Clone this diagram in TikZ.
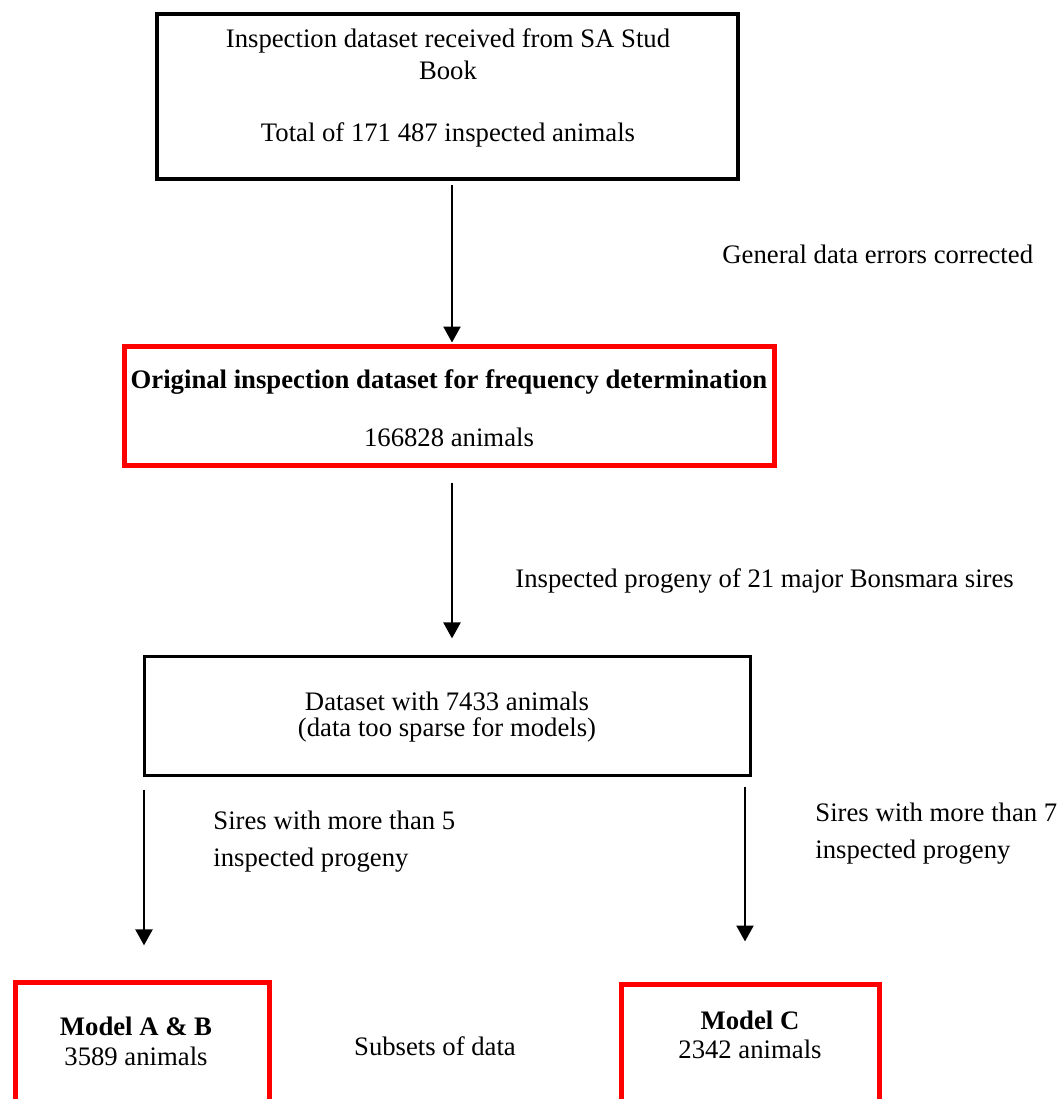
\documentclass[tikz,border=0pt]{standalone}
\usepackage{fontspec}
\setmainfont{Liberation Serif}
\usetikzlibrary{arrows.meta}

\begin{document}
\begin{tikzpicture}[x=0.44pt, y=-0.44pt,
        font=\fontsize{11.75}{14.2}\selectfont,
        blackbox/.style={draw=black, line width=1.6pt, inner sep=0pt},
        redbox/.style={draw=red, line width=2.3pt, inner sep=0pt},
        txt/.style={inner sep=0pt, align=center},
        note/.style={inner sep=0pt, anchor=west, align=left},
        flow/.style={line width=0.9pt, -{Triangle[width=7.5pt,length=7pt]}}]
        \clip (0,0) rectangle (1063,1099);
        % boxes
        \node[blackbox, minimum width=255.8pt, minimum height=72.8pt] (received) at (447.5,96.5) {};
        \node[redbox, minimum width=286pt, minimum height=52.4pt] (original) at (449.5,406) {};
        \node[blackbox, line width=1.3pt, minimum width=266.7pt, minimum height=52.4pt] (sparse) at (447.5,716) {};
        \node[redbox, minimum width=111.8pt, minimum height=85.8pt] (modelab) at (142.5,1080) {};
        \node[redbox, minimum width=113.5pt, minimum height=85.8pt] (modelc) at (750.5,1082) {};
        % box texts
        \node[txt] (receivedtxt) at (448,88) {Inspection dataset received from SA Stud\\Book\\[13pt]Total of 171 487 inspected animals};
        \node[txt] (originaltxt) at (449,408) {\textbf{Original inspection dataset for frequency determination}\\[11.5pt]166828 animals};
        \node[txt] (sparsetxt) at (447,717) {Dataset with 7433 animals\\[-2.4pt](data too sparse for models)};
        \node[txt] (modelabtxt) at (136,1041) {\textbf{Model A \& B}\\[-1.1pt]3589 animals};
        \node[txt] (modelctxt) at (750,1035) {\textbf{Model C}\\[-1.5pt]2342 animals};
        \node[txt] (subsets) at (435,1046) {Subsets of data};
        % step notes
        \node[note] (corrected) at (722,254) {General data errors corrected};
        \node[note] (progeny) at (515,581) {Inspected progeny of 21 major Bonsmara sires};
        \node[note] (morefive) at (213,842) {Sires with more than 5\\[2pt]inspected progeny};
        \node[note] (moreseven) at (815,834) {Sires with more than 7\\[2pt]inspected progeny};
        % arrows
        \coordinate (mainaxis) at (452,0);
        \coordinate (leftaxis) at (144,0);
        \coordinate (rightaxis) at (745,0);
        \draw[flow, shorten <=1.8pt, shorten >=0.6pt] (received.south -| mainaxis) -- (original.north -| mainaxis);
        \draw[flow, shorten <=6.4pt, shorten >=7.3pt] (original.south -| mainaxis) -- (sparse.north -| mainaxis);
        \draw[flow, shorten <=5.5pt, shorten >=15.2pt] (sparse.south -| leftaxis) -- (modelab.north -| leftaxis);
        \draw[flow, shorten <=4.2pt, shorten >=17.8pt] (sparse.south -| rightaxis) -- (modelc.north -| rightaxis);
\end{tikzpicture}
\end{document}
